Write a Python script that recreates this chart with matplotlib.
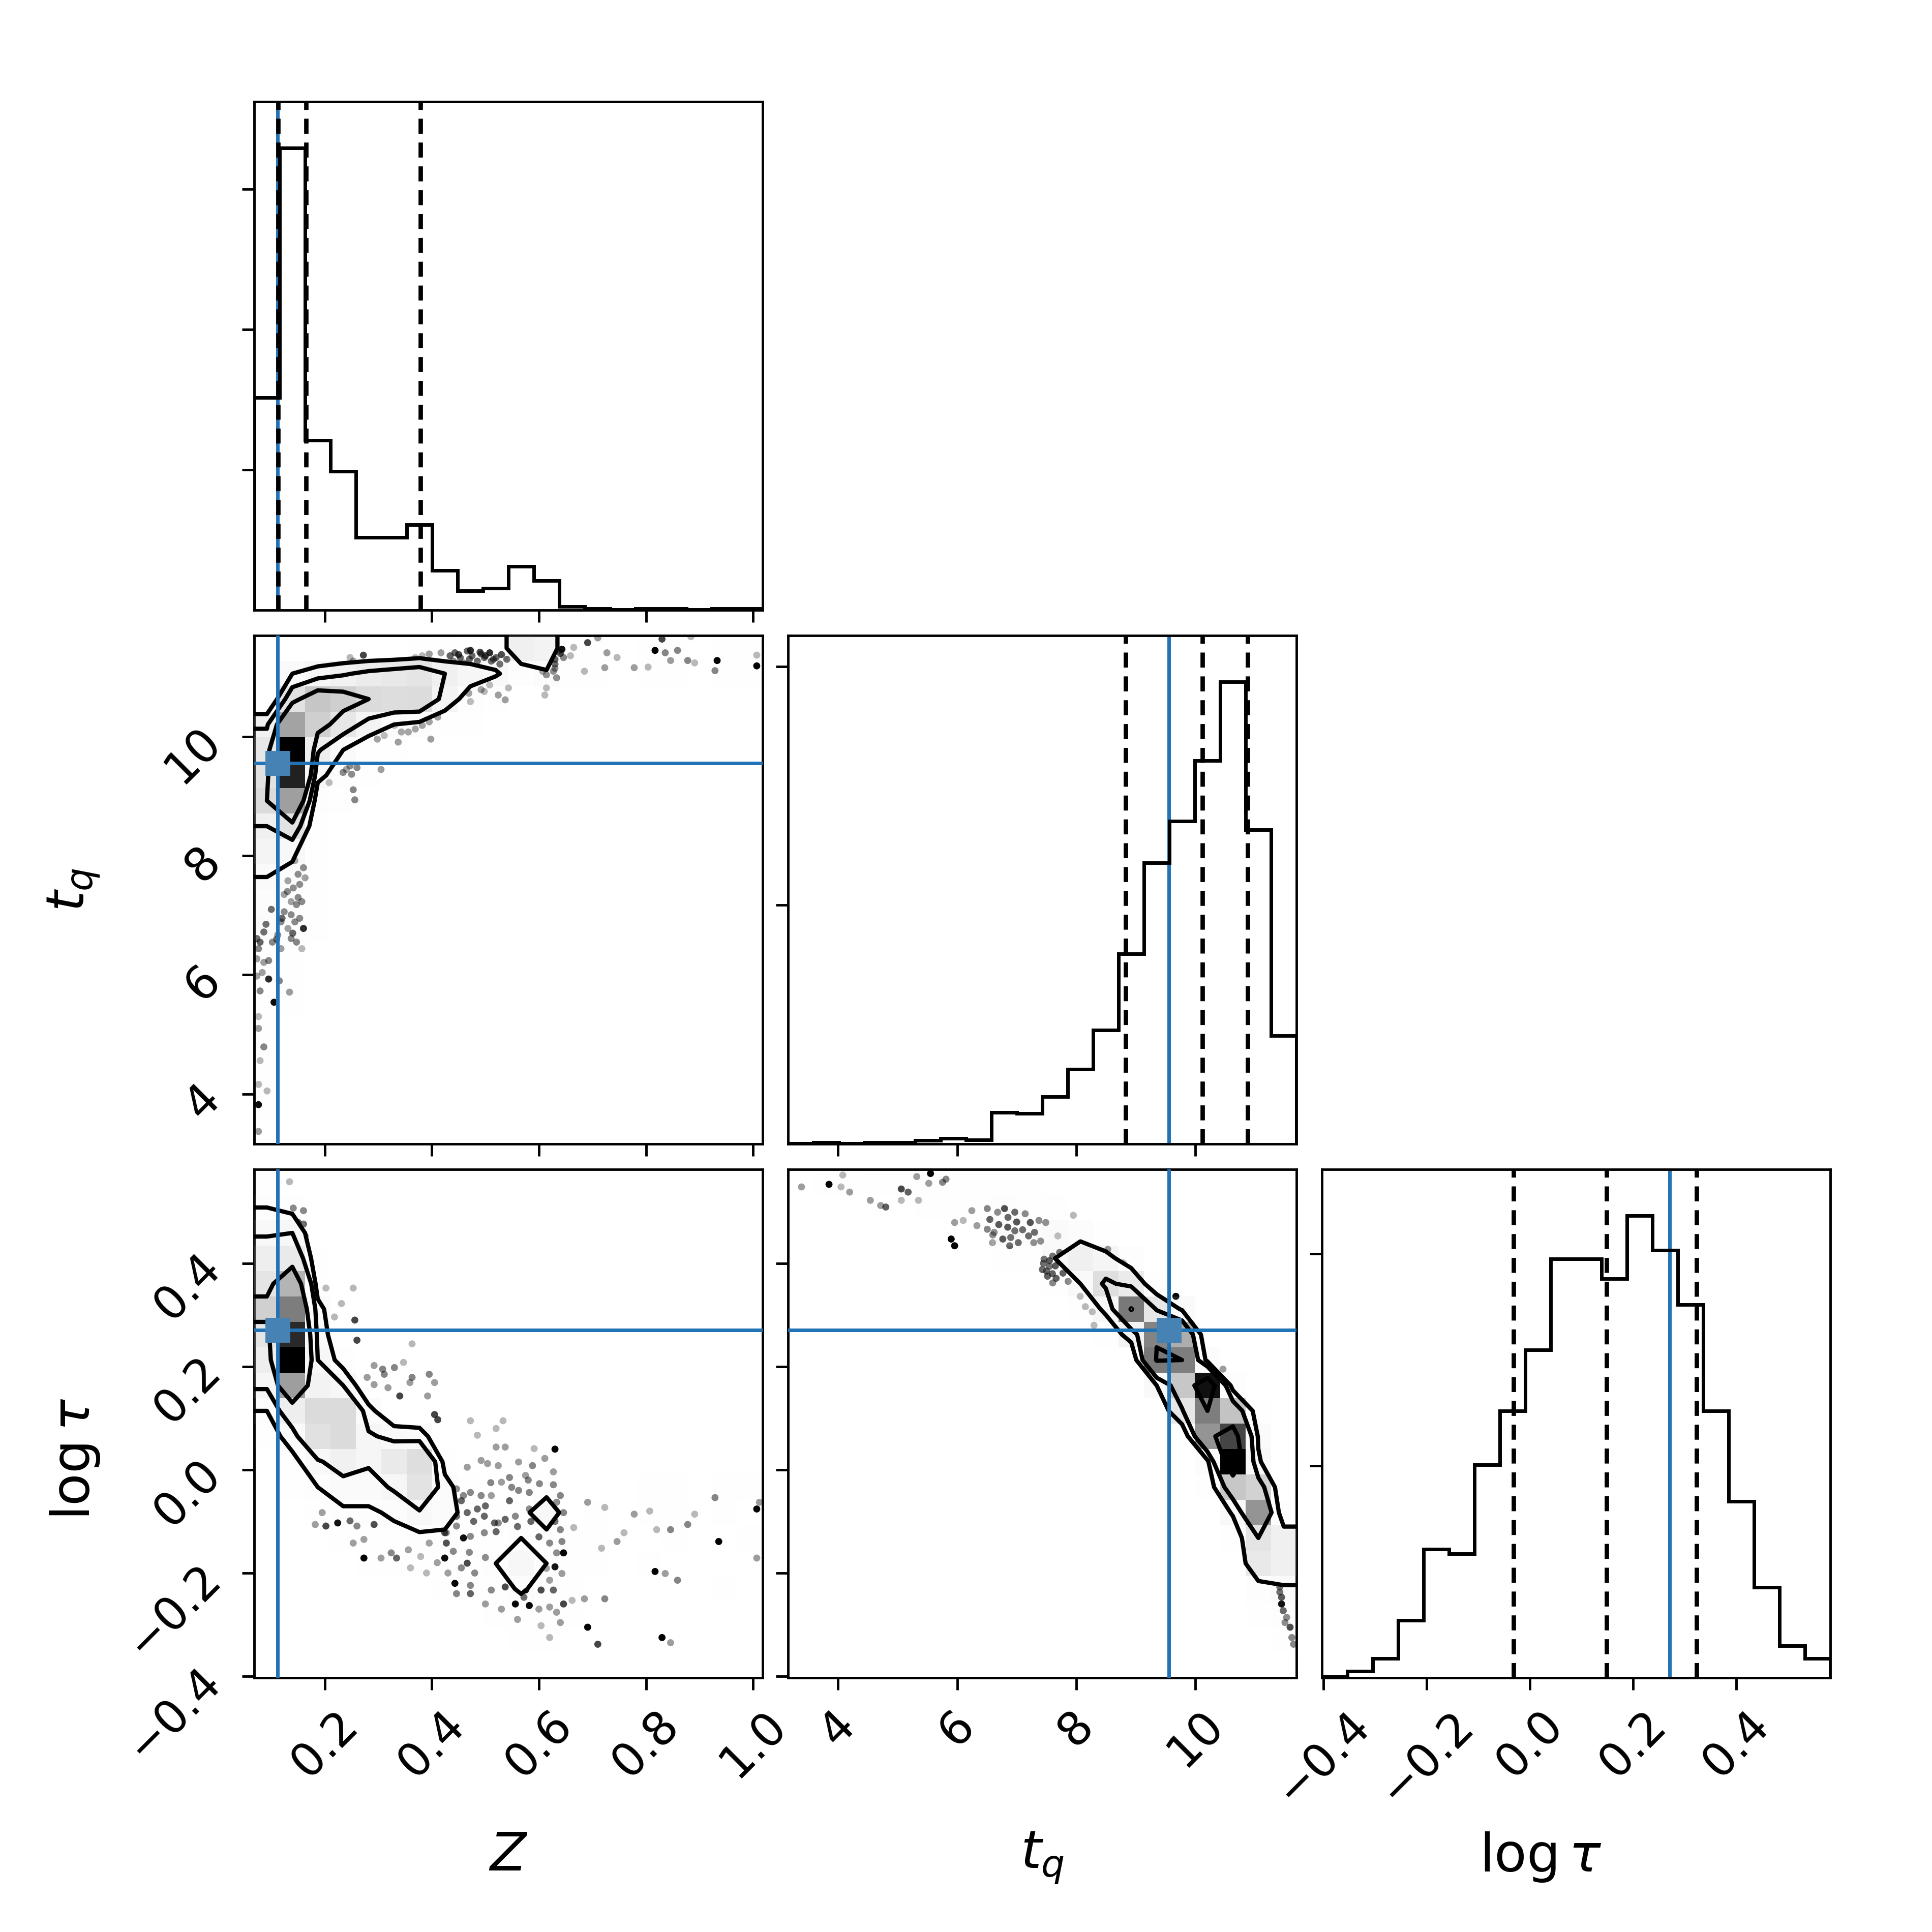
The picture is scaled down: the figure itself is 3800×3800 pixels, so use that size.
import numpy as np
import matplotlib
matplotlib.use("Agg")
import matplotlib.pyplot as plt
from matplotlib.colors import LinearSegmentedColormap

# ---------------- data ----------------
labels = [r"$Z$", r"$t_q$", r"$\mathrm{log}\,\tau$"]
ranges = [(0.068, 1.018), (3.16, 11.70), (-0.403, 0.582)]
truths = [0.112, 9.56, 0.271]
quantiles = [[0.113, 0.1646, 0.3785], [8.83, 10.116, 10.88], [-0.032, 0.149, 0.323]]
axis_ticks = [[0.2, 0.4, 0.6, 0.8, 1.0], [4, 6, 8, 10], [-0.4, -0.2, 0.0, 0.2, 0.4]]
hist_yticks = [[1000, 2000, 3000], [1000, 2000], [500, 1000]]

hist_Z = [1516, 3294, 1210, 988, 518, 518, 607, 282, 137, 157, 313, 210, 24, 10, 2, 10, 10, 2, 10, 10]
hist_tq = [2, 7, 3, 7, 7, 14, 24, 17, 133, 127, 198, 314, 477, 796, 1178, 1353, 1606, 1936, 1317, 453]
hist_logtau = [2, 15, 45, 136, 303, 293, 502, 629, 773, 988, 988, 941, 1090, 1008, 880, 629, 416, 213, 75, 45]

# 2D histogram counts, 20x20, top row (largest y) first, columns left->right
grid_Z_tq = [
    [0, 0, 0, 0, 0, 0, 10, 15, 35, 40, 180, 160, 20, 6, 1, 5, 5, 1, 5, 5],
    [0, 100, 140, 170, 200, 220, 240, 180, 140, 110, 50, 90, 4, 4, 1, 5, 5, 1, 5, 5],
    [0, 250, 353, 325, 280, 270, 277, 150, 60, 15, 0, 0, 0, 0, 0, 0, 0, 0, 0, 0],
    [170, 450, 325, 230, 150, 100, 80, 40, 12, 0, 0, 0, 0, 0, 0, 0, 0, 0, 0, 0],
    [230, 750, 190, 100, 40, 25, 0, 0, 0, 0, 0, 0, 0, 0, 0, 0, 0, 0, 0, 0],
    [257, 700, 120, 60, 20, 0, 0, 0, 0, 0, 0, 0, 0, 0, 0, 0, 0, 0, 0, 0],
    [280, 458, 50, 8, 0, 0, 0, 0, 0, 0, 0, 0, 0, 0, 0, 0, 0, 0, 0, 0],
    [180, 250, 25, 0, 0, 0, 0, 0, 0, 0, 0, 0, 0, 0, 0, 0, 0, 0, 0, 0],
    [150, 120, 14, 0, 0, 0, 0, 0, 0, 0, 0, 0, 0, 0, 0, 0, 0, 0, 0, 0],
    [100, 70, 8, 0, 0, 0, 0, 0, 0, 0, 0, 0, 0, 0, 0, 0, 0, 0, 0, 0],
    [80, 40, 7, 0, 0, 0, 0, 0, 0, 0, 0, 0, 0, 0, 0, 0, 0, 0, 0, 0],
    [90, 40, 3, 0, 0, 0, 0, 0, 0, 0, 0, 0, 0, 0, 0, 0, 0, 0, 0, 0],
    [12, 5, 0, 0, 0, 0, 0, 0, 0, 0, 0, 0, 0, 0, 0, 0, 0, 0, 0, 0],
    [18, 6, 0, 0, 0, 0, 0, 0, 0, 0, 0, 0, 0, 0, 0, 0, 0, 0, 0, 0],
    [10, 4, 0, 0, 0, 0, 0, 0, 0, 0, 0, 0, 0, 0, 0, 0, 0, 0, 0, 0],
    [6, 1, 0, 0, 0, 0, 0, 0, 0, 0, 0, 0, 0, 0, 0, 0, 0, 0, 0, 0],
    [6, 1, 0, 0, 0, 0, 0, 0, 0, 0, 0, 0, 0, 0, 0, 0, 0, 0, 0, 0],
    [3, 0, 0, 0, 0, 0, 0, 0, 0, 0, 0, 0, 0, 0, 0, 0, 0, 0, 0, 0],
    [6, 1, 0, 0, 0, 0, 0, 0, 0, 0, 0, 0, 0, 0, 0, 0, 0, 0, 0, 0],
    [2, 0, 0, 0, 0, 0, 0, 0, 0, 0, 0, 0, 0, 0, 0, 0, 0, 0, 0, 0],
]

grid_Z_logtau = [
    [30, 0, 0, 0, 0, 0, 0, 0, 0, 0, 0, 0, 0, 0, 0, 0, 0, 0, 0, 0],
    [60, 40, 0, 0, 0, 0, 0, 0, 0, 0, 0, 0, 0, 0, 0, 0, 0, 0, 0, 0],
    [110, 120, 0, 0, 0, 0, 0, 0, 0, 0, 0, 0, 0, 0, 0, 0, 0, 0, 0, 0],
    [180, 200, 10, 0, 0, 0, 0, 0, 0, 0, 0, 0, 0, 0, 0, 0, 0, 0, 0, 0],
    [220, 380, 30, 0, 0, 0, 0, 0, 0, 0, 0, 0, 0, 0, 0, 0, 0, 0, 0, 0],
    [300, 500, 80, 0, 0, 0, 0, 0, 0, 0, 0, 0, 0, 0, 0, 0, 0, 0, 0, 0],
    [220, 640, 100, 0, 0, 0, 0, 0, 0, 0, 0, 0, 0, 0, 0, 0, 0, 0, 0, 0],
    [180, 700, 120, 30, 0, 0, 0, 0, 0, 0, 0, 0, 0, 0, 0, 0, 0, 0, 0, 0],
    [130, 430, 150, 120, 0, 0, 0, 0, 0, 0, 0, 0, 0, 0, 0, 0, 0, 0, 0, 0],
    [60, 180, 260, 260, 80, 0, 0, 0, 0, 0, 0, 0, 0, 0, 0, 0, 0, 0, 0, 0],
    [26, 90, 240, 260, 130, 100, 90, 0, 0, 0, 0, 0, 0, 0, 0, 0, 0, 0, 0, 0],
    [0, 40, 110, 160, 130, 200, 250, 40, 0, 0, 0, 0, 0, 0, 0, 0, 0, 0, 0, 0],
    [0, 15, 60, 90, 90, 130, 230, 80, 20, 0, 0, 20, 0, 0, 0, 3, 4, 0, 4, 5],
    [0, 0, 30, 50, 50, 70, 110, 80, 40, 30, 30, 120, 0, 3, 2, 4, 3, 2, 3, 0],
    [0, 0, 0, 20, 28, 40, 45, 50, 35, 30, 60, 30, 8, 4, 0, 0, 3, 0, 0, 5],
    [0, 0, 0, 0, 10, 18, 12, 25, 30, 60, 120, 60, 8, 3, 0, 3, 0, 0, 0, 0],
    [0, 0, 0, 0, 0, 0, 0, 7, 12, 30, 70, 30, 5, 0, 0, 0, 0, 0, 3, 0],
    [0, 0, 0, 0, 0, 0, 0, 0, 0, 7, 20, 15, 3, 0, 0, 0, 0, 0, 0, 0],
    [0, 0, 0, 0, 0, 0, 0, 0, 0, 0, 8, 5, 0, 0, 0, 0, 0, 0, 0, 0],
    [0, 0, 0, 0, 0, 0, 0, 0, 0, 0, 0, 0, 0, 0, 0, 0, 0, 0, 0, 0],
]

grid_tq_logtau = [
    [2, 7, 3, 7, 7, 10, 8, 5, 5, 5, 0, 0, 0, 0, 0, 0, 0, 0, 0, 0],
    [0, 0, 0, 0, 0, 4, 16, 12, 40, 30, 20, 0, 0, 0, 0, 0, 0, 0, 0, 0],
    [0, 0, 0, 0, 0, 0, 0, 0, 80, 60, 80, 60, 10, 0, 0, 0, 0, 0, 0, 0],
    [0, 0, 0, 0, 0, 0, 0, 0, 3, 30, 90, 150, 120, 40, 0, 0, 0, 0, 0, 0],
    [0, 0, 0, 0, 0, 0, 0, 0, 0, 0, 8, 90, 220, 170, 20, 0, 0, 0, 0, 0],
    [0, 0, 0, 0, 0, 0, 0, 0, 0, 0, 0, 14, 110, 450, 190, 80, 0, 0, 0, 0],
    [0, 0, 0, 0, 0, 0, 0, 0, 0, 0, 0, 0, 20, 130, 430, 350, 0, 0, 0, 0],
    [0, 0, 0, 0, 0, 0, 0, 0, 0, 0, 0, 0, 0, 0, 450, 440, 60, 0, 0, 0],
    [0, 0, 0, 0, 0, 0, 0, 0, 0, 0, 0, 0, 0, 0, 90, 290, 600, 40, 0, 0],
    [0, 0, 0, 0, 0, 0, 0, 0, 0, 0, 0, 0, 0, 0, 0, 190, 440, 300, 30, 0],
    [0, 0, 0, 0, 0, 0, 0, 0, 0, 0, 0, 0, 0, 0, 0, 0, 400, 530, 80, 0],
    [0, 0, 0, 0, 0, 0, 0, 0, 0, 0, 0, 0, 0, 0, 0, 0, 70, 620, 100, 0],
    [0, 0, 0, 0, 0, 0, 0, 0, 0, 0, 0, 0, 0, 0, 0, 0, 20, 290, 260, 0],
    [0, 0, 0, 0, 0, 0, 0, 0, 0, 0, 0, 0, 0, 0, 0, 0, 0, 100, 400, 16],
    [0, 0, 0, 0, 0, 0, 0, 0, 0, 0, 0, 0, 0, 0, 0, 0, 0, 30, 200, 150],
    [0, 0, 0, 0, 0, 0, 0, 0, 0, 0, 0, 0, 0, 0, 0, 0, 0, 0, 180, 150],
    [0, 0, 0, 0, 0, 0, 0, 0, 0, 0, 0, 0, 0, 0, 0, 0, 0, 0, 50, 80],
    [0, 0, 0, 0, 0, 0, 0, 0, 0, 0, 0, 0, 0, 0, 0, 0, 0, 0, 5, 40],
    [0, 0, 0, 0, 0, 0, 0, 0, 0, 0, 0, 0, 0, 0, 0, 0, 0, 0, 0, 15],
    [0, 0, 0, 0, 0, 0, 0, 0, 0, 0, 0, 0, 0, 0, 0, 0, 0, 0, 0, 2],
]

# sample points visible outside the contours: (x, y, repeat count)
points_Z_tq = [
    (0.272, 11.37, 8), (0.691, 11.58, 8), (0.710, 11.66, 3), (0.727, 11.41, 3), (0.746, 11.33, 2),
    (0.778, 11.16, 3), (0.804, 11.17, 2), (0.817, 11.45, 30), (0.836, 11.41, 4), (0.830, 11.64, 8),
    (0.859, 11.45, 4), (0.846, 11.28, 3), (0.878, 11.28, 4), (0.891, 11.24, 2), (0.933, 11.28, 30),
    (0.929, 11.11, 4), (1.007, 11.37, 2), (1.007, 11.19, 30), (0.884, 11.68, 2), (0.665, 11.50, 2),
    (0.685, 11.10, 2), (0.723, 11.16, 3), (0.659, 11.36, 2),
    (0.434, 11.36, 6), (0.443, 11.41, 6), (0.453, 11.33, 6), (0.466, 11.44, 6), (0.472, 11.45, 12),
    (0.475, 11.36, 6), (0.485, 11.27, 6), (0.492, 11.39, 6), (0.498, 11.33, 6), (0.508, 11.41, 12),
    (0.511, 11.27, 6), (0.520, 11.33, 6), (0.527, 11.22, 6), (0.440, 11.27, 4), (0.459, 11.24, 4),
    (0.417, 11.41, 3), (0.395, 11.39, 3), (0.382, 11.36, 2), (0.369, 11.33, 2), (0.253, 11.27, 3),
    (0.263, 11.19, 3), (0.247, 11.33, 2), (0.208, 11.13, 2), (0.186, 11.04, 2),
    (0.450, 11.38, 8), (0.470, 11.30, 6), (0.490, 11.42, 8), (0.500, 11.36, 8), (0.515, 11.30, 6),
    (0.530, 11.38, 8), (0.540, 11.30, 6), (0.620, 11.41, 8), (0.630, 11.30, 8), (0.640, 11.40, 8),
    (0.630, 11.15, 4),
    (0.607, 11.47, 6), (0.614, 11.33, 6), (0.624, 11.39, 6), (0.630, 11.22, 6), (0.636, 11.44, 6),
    (0.643, 11.47, 20), (0.627, 11.10, 4), (0.633, 10.99, 4), (0.646, 11.33, 4), (0.614, 11.04, 4),
    (0.601, 11.56, 4), (0.607, 11.10, 3), (0.614, 10.82, 2), (0.611, 10.70, 2),
    (0.469, 10.73, 3), (0.492, 10.79, 3), (0.524, 10.70, 3), (0.537, 10.62, 3), (0.508, 10.87, 2),
    (0.472, 10.59, 2), (0.498, 10.76, 2), (0.543, 10.82, 2), (0.408, 10.42, 3), (0.395, 10.25, 3),
    (0.356, 10.08, 3), (0.337, 9.91, 3), (0.311, 10.02, 2), (0.298, 9.96, 3), (0.398, 9.96, 3),
    (0.305, 9.45, 3), (0.253, 9.11, 4), (0.256, 8.94, 4), (0.240, 9.45, 3), (0.208, 9.23, 2),
    (0.260, 9.48, 4), (0.343, 10.08, 3), (0.369, 10.13, 3), (0.382, 10.19, 3), (0.330, 10.19, 2),
    (0.350, 10.25, 3), (0.411, 10.33, 3), (0.247, 9.51, 4), (0.234, 9.40, 4), (0.250, 9.37, 4),
    (0.160, 7.80, 4), (0.153, 7.52, 4), (0.157, 7.23, 4), (0.160, 6.78, 12), (0.147, 6.55, 4),
    (0.157, 6.44, 2), (0.137, 7.01, 4), (0.124, 7.35, 3), (0.095, 6.24, 4), (0.095, 5.93, 12),
    (0.115, 5.90, 4), (0.134, 5.71, 3), (0.079, 5.73, 4), (0.105, 5.54, 20), (0.076, 5.30, 2),
    (0.076, 5.10, 3), (0.086, 4.79, 4), (0.079, 4.56, 2), (0.076, 4.16, 2), (0.092, 4.05, 2),
    (0.076, 3.82, 20), (0.076, 3.37, 3), (0.073, 5.98, 3), (0.073, 6.61, 6), (0.144, 7.92, 3),
    (0.150, 7.69, 4), (0.141, 7.46, 4), (0.131, 7.58, 3), (0.163, 7.63, 3), (0.147, 7.18, 4),
    (0.137, 7.23, 3), (0.124, 7.06, 4), (0.118, 6.89, 4), (0.144, 6.89, 4), (0.153, 6.95, 4),
    (0.131, 6.78, 3), (0.112, 6.67, 4), (0.086, 6.72, 6), (0.079, 6.55, 6), (0.076, 6.44, 4),
    (0.073, 6.27, 3), (0.102, 6.55, 4), (0.118, 6.44, 3), (0.137, 6.61, 4), (0.086, 6.21, 3),
    (0.083, 6.04, 3), (0.100, 7.10, 6), (0.120, 6.95, 6), (0.140, 6.70, 6), (0.110, 6.60, 6),
    (0.090, 6.85, 6), (0.130, 7.40, 4), (0.150, 7.30, 4),
]

points_Z_logtau = [
    (0.134, 0.558, 2), (0.141, 0.507, 4), (0.160, 0.502, 4), (0.150, 0.479, 8), (0.160, 0.476, 6),
    (0.163, 0.453, 4), (0.153, 0.447, 4), (0.202, 0.352, 2), (0.253, 0.352, 2), (0.231, 0.322, 2),
    (0.218, 0.296, 2), (0.256, 0.290, 8), (0.260, 0.251, 8), (0.363, 0.244, 2), (0.292, 0.202, 3),
    (0.308, 0.195, 4), (0.311, 0.185, 4), (0.330, 0.198, 4), (0.347, 0.208, 2), (0.363, 0.179, 4),
    (0.359, 0.169, 3), (0.395, 0.185, 4), (0.405, 0.169, 3), (0.292, 0.165, 3), (0.318, 0.159, 3),
    (0.340, 0.143, 8), (0.392, 0.143, 3), (0.279, 0.179, 3), (0.405, 0.107, 8), (0.411, 0.097, 8),
    (0.472, 0.095, 2), (0.533, 0.095, 2), (0.520, 0.080, 2), (0.485, 0.067, 2), (0.520, 0.044, 3),
    (0.537, 0.044, 3), (0.591, 0.041, 2), (0.630, 0.040, 30), (0.466, 0.005, 3), (0.492, 0.018, 3),
    (0.504, 0.012, 3), (0.524, 0.008, 3), (0.562, 0.015, 3), (0.588, 0.008, 4), (0.611, 0.022, 3),
    (0.627, -0.004, 3), (0.575, -0.011, 3), (0.601, -0.027, 4),
    (0.446, -0.037, 4), (0.459, -0.050, 4), (0.440, -0.063, 4), (0.472, -0.044, 4), (0.492, -0.050, 4),
    (0.511, -0.050, 3), (0.530, -0.024, 3), (0.549, -0.034, 4), (0.562, -0.040, 4), (0.582, -0.044, 4),
    (0.627, -0.029, 4), (0.446, -0.090, 6), (0.466, -0.083, 6), (0.485, -0.076, 6), (0.498, -0.090, 6),
    (0.517, -0.103, 6), (0.537, -0.096, 6), (0.556, -0.090, 4), (0.582, -0.076, 4), (0.607, -0.070, 4),
    (0.633, -0.063, 4), (0.646, -0.083, 4), (0.427, -0.122, 4), (0.446, -0.109, 4), (0.472, -0.129, 4),
    (0.498, -0.122, 4), (0.524, -0.103, 4), (0.640, -0.116, 4), (0.643, -0.139, 4), (0.620, -0.142, 4),
    (0.633, -0.161, 4), (0.646, -0.161, 30), (0.630, -0.188, 30), (0.614, -0.191, 3), (0.620, -0.214, 3),
    (0.643, -0.201, 3),
    (0.455, -0.060, 6), (0.478, -0.100, 6), (0.500, -0.070, 6), (0.520, -0.120, 6), (0.545, -0.060, 6),
    (0.560, -0.110, 6), (0.585, -0.100, 6), (0.600, -0.130, 6), (0.615, -0.100, 6), (0.580, -0.020, 4),
    (0.545, -0.015, 4), (0.510, -0.025, 4), (0.630, -0.100, 6), (0.640, -0.050, 4), (0.470, -0.160, 4),
    (0.500, -0.170, 4), (0.480, -0.200, 4), (0.455, -0.190, 4), (0.430, -0.200, 3), (0.410, -0.180, 3),
    (0.390, -0.200, 2), (0.360, -0.190, 2), (0.500, -0.260, 3), (0.530, -0.270, 3), (0.560, -0.290, 3),
    (0.600, -0.270, 3),
    (0.182, -0.106, 3), (0.195, -0.083, 3), (0.202, -0.109, 8), (0.224, -0.103, 30), (0.247, -0.099, 6),
    (0.260, -0.109, 4), (0.292, -0.106, 8), (0.253, -0.142, 3), (0.273, -0.135, 3), (0.273, -0.171, 30),
    (0.305, -0.171, 3), (0.324, -0.161, 4), (0.334, -0.171, 6), (0.356, -0.155, 3), (0.379, -0.168, 2),
    (0.395, -0.142, 3), (0.424, -0.122, 8), (0.427, -0.142, 8), (0.424, -0.171, 30), (0.440, -0.158, 4),
    (0.459, -0.132, 30), (0.466, -0.181, 8), (0.443, -0.220, 30), (0.472, -0.224, 4), (0.472, -0.240, 6),
    (0.446, -0.240, 4), (0.511, -0.233, 4), (0.537, -0.227, 8), (0.556, -0.260, 30), (0.582, -0.263, 30),
    (0.572, -0.247, 6), (0.575, -0.233, 30), (0.604, -0.233, 8), (0.627, -0.233, 6), (0.646, -0.260, 8),
    (0.620, -0.266, 3), (0.633, -0.276, 3), (0.640, -0.296, 3), (0.604, -0.302, 2), (0.620, -0.325, 2),
    (0.662, -0.253, 2), (0.685, -0.250, 3), (0.723, -0.250, 4), (0.691, -0.305, 30), (0.710, -0.338, 8),
    (0.830, -0.325, 30), (0.846, -0.335, 3),
    (0.691, -0.063, 3), (0.723, -0.073, 2), (0.778, -0.086, 3), (0.807, -0.080, 2), (0.846, -0.116, 4),
    (0.878, -0.106, 4), (0.891, -0.086, 2), (0.929, -0.054, 4), (1.007, -0.076, 30), (1.012, -0.063, 3),
    (0.936, -0.139, 30), (1.007, -0.171, 3), (0.817, -0.197, 30), (0.836, -0.201, 3), (0.859, -0.214, 4),
    (0.746, -0.139, 3), (0.759, -0.122, 2), (0.717, -0.152, 2), (0.820, -0.116, 2), (0.665, -0.112, 2),
]

points_tq_logtau = [
    (3.386, 0.548, 3), (3.848, 0.553, 30), (4.079, 0.571, 2), (4.195, 0.538, 3), (4.050, 0.548, 2),
    (4.542, 0.522, 3), (4.715, 0.512, 3), (4.802, 0.509, 6), (5.062, 0.544, 8), (5.177, 0.538, 6),
    (5.322, 0.568, 3), (5.524, 0.555, 3), (5.553, 0.574, 30), (5.755, 0.557, 4), (5.813, 0.563, 4),
    (5.351, 0.522, 2), (5.062, 0.522, 2),
    (5.958, 0.479, 3), (6.247, 0.502, 3), (6.102, 0.483, 2), (6.333, 0.473, 3), (6.507, 0.506, 4),
    (6.680, 0.499, 4), (6.796, 0.506, 8), (6.854, 0.489, 6), (6.969, 0.499, 6), (7.143, 0.496, 4),
    (7.229, 0.479, 8), (7.374, 0.483, 4), (7.489, 0.479, 4), (6.507, 0.466, 4), (6.622, 0.460, 4),
    (6.767, 0.447, 8), (6.969, 0.463, 6), (7.027, 0.440, 6), (7.200, 0.453, 6), (7.287, 0.440, 4),
    (7.403, 0.443, 4), (6.594, 0.440, 3), (6.883, 0.434, 6), (5.900, 0.447, 30), (5.958, 0.434, 30),
    (7.952, 0.493, 2), (7.692, 0.453, 2),
    (6.550, 0.485, 6), (6.700, 0.475, 8), (6.850, 0.470, 8), (7.000, 0.480, 8), (7.100, 0.465, 6),
    (7.300, 0.460, 6), (6.900, 0.450, 6), (6.600, 0.455, 4), (7.550, 0.405, 8), (7.650, 0.395, 8),
    (7.500, 0.385, 6), (7.700, 0.405, 6), (7.600, 0.380, 6), (7.450, 0.400, 6),
    (7.461, 0.408, 6), (7.547, 0.394, 6), (7.605, 0.414, 6), (7.721, 0.421, 6), (7.432, 0.388, 6),
    (7.518, 0.375, 6), (7.663, 0.371, 6), (7.778, 0.381, 6), (7.865, 0.365, 4), (7.605, 0.362, 4),
    (7.778, 0.408, 6), (7.836, 0.394, 6), (8.414, 0.421, 4), (8.501, 0.408, 4), (8.530, 0.427, 4),
    (8.588, 0.401, 3),
    (8.067, 0.336, 2), (8.154, 0.316, 2), (8.270, 0.306, 2), (8.299, 0.280, 2), (8.790, 0.401, 2),
    (9.674, 0.336, 30), (10.466, 0.195, 3),
    (11.333, -0.201, 6), (11.391, -0.214, 6), (11.420, -0.227, 6), (11.449, -0.247, 8), (11.449, -0.260, 30),
    (11.478, -0.273, 6), (11.535, -0.286, 4), (11.593, -0.305, 8), (11.622, -0.325, 4), (11.651, -0.338, 4),
    (11.362, -0.191, 4), (11.420, -0.237, 6), (11.507, -0.296, 4),
]

hists = [hist_Z, hist_tq, hist_logtau]
grids = {(1, 0): grid_Z_tq, (2, 0): grid_Z_logtau, (2, 1): grid_tq_logtau}
points = {(1, 0): points_Z_tq, (2, 0): points_Z_logtau, (2, 1): points_tq_logtau}

# ---------------- style ----------------
TRUTH_LINE = "#2272b6"
TRUTH_MARK = "#4682b4"
TICK_FS = 13
LABEL_FS = 15
SPINE_LW = 0.7
xlabel_coords = [(0.5, -0.3), (0.5, -0.3), (0.43, -0.3)]
ylabel_coords = [None, (-0.3, 0.5), (-0.3, 0.43)]

white_cmap = LinearSegmentedColormap.from_list("white_cmap", [(1, 1, 1), (1, 1, 1)], N=2)
density_cmap = LinearSegmentedColormap.from_list("density_cmap", [(0, 0, 0, 1), (1, 1, 1, 0)])
levels = 1.0 - np.exp(-0.5 * np.arange(0.5, 2.1, 0.5) ** 2)


def draw_hist2d(ax, grid, xr, yr, pts):
    H = np.array(grid, dtype=float)[::-1].T  # H[ix, iy]
    nx, ny = H.shape
    X = np.linspace(xr[0], xr[1], nx + 1)
    Y = np.linspace(yr[0], yr[1], ny + 1)

    Hflat = np.sort(H.flatten())[::-1]
    sm = np.cumsum(Hflat)
    sm /= sm[-1]
    V = np.empty(len(levels))
    for k, v0 in enumerate(levels):
        try:
            V[k] = Hflat[sm <= v0][-1]
        except IndexError:
            V[k] = Hflat[0]
    V.sort()
    m = np.diff(V) == 0
    while np.any(m):
        V[np.where(m)[0][0]] *= 1.0 - 1e-4
        m = np.diff(V) == 0
    V.sort()

    X1, Y1 = 0.5 * (X[1:] + X[:-1]), 0.5 * (Y[1:] + Y[:-1])
    H2 = H.min() + np.zeros((nx + 4, ny + 4))
    H2[2:-2, 2:-2] = H
    H2[2:-2, 1] = H[:, 0]
    H2[2:-2, -2] = H[:, -1]
    H2[1, 2:-2] = H[0]
    H2[-2, 2:-2] = H[-1]
    H2[1, 1] = H[0, 0]
    H2[1, -2] = H[0, -1]
    H2[-2, 1] = H[-1, 0]
    H2[-2, -2] = H[-1, -1]
    X2 = np.concatenate([X1[0] + np.array([-2, -1]) * np.diff(X1[:2]), X1,
                         X1[-1] + np.array([1, 2]) * np.diff(X1[-2:])])
    Y2 = np.concatenate([Y1[0] + np.array([-2, -1]) * np.diff(Y1[:2]), Y1,
                         Y1[-1] + np.array([1, 2]) * np.diff(Y1[-2:])])

    px = np.array([p[0] for p in pts])
    py = np.array([p[1] for p in pts])
    pn = np.array([p[2] for p in pts], dtype=float)
    cols = np.zeros((len(px), 4))
    cols[:, 3] = 1.0 - 0.85 ** pn
    ax.scatter(px, py, s=4.0, c=cols, marker="o", linewidths=0, zorder=1)

    ax.contourf(X2, Y2, H2.T, [V.min(), H.max()], cmap=white_cmap, antialiased=False, zorder=2)
    ax.pcolor(X, Y, H.max() - H.T, cmap=density_cmap, zorder=3)
    ax.contour(X2, Y2, H2.T, V, colors="k", linewidths=1.2, zorder=4)


fig = plt.figure(figsize=(7.6, 7.6), dpi=500)
gs = fig.add_gridspec(3, 3, left=1.0 / 7.6, right=7.2 / 7.6, bottom=1.0 / 7.6, top=7.2 / 7.6,
                      wspace=0.05, hspace=0.05)

for i in range(3):
    for j in range(i + 1):
        ax = fig.add_subplot(gs[i, j])
        for sp in ax.spines.values():
            sp.set_linewidth(SPINE_LW)
        ax.tick_params(width=SPINE_LW, length=3.5, labelsize=TICK_FS)
        if i == j:
            counts = np.array(hists[i], dtype=float)
            edges = np.linspace(ranges[i][0], ranges[i][1], len(counts) + 1)
            ax.axvline(truths[i], color=TRUTH_LINE, lw=1.0, zorder=2)
            ax.stairs(counts, edges, color="k", lw=1.0, zorder=3)
            for q in quantiles[i]:
                ax.axvline(q, color="k", lw=1.25, ls=(0, (3.4, 2.0)), zorder=4)
            ax.set_xlim(ranges[i])
            ax.set_ylim(0, 1.1 * counts.max())
            ax.set_yticks(hist_yticks[i])
            ax.set_yticklabels([])
            ax.set_xticks(axis_ticks[i])
        else:
            draw_hist2d(ax, grids[(i, j)], ranges[j], ranges[i], points[(i, j)])
            ax.axvline(truths[j], color=TRUTH_LINE, lw=1.0, zorder=5)
            ax.axhline(truths[i], color=TRUTH_LINE, lw=1.0, zorder=5)
            ax.plot(truths[j], truths[i], "s", color=TRUTH_MARK, ms=6, zorder=6)
            ax.set_xlim(ranges[j])
            ax.set_ylim(ranges[i])
            ax.set_xticks(axis_ticks[j])
            ax.set_yticks(axis_ticks[i])
            if j == 0:
                ax.tick_params(axis="y", labelrotation=45)
                ax.set_ylabel(labels[i], fontsize=LABEL_FS)
                ax.yaxis.set_label_coords(*ylabel_coords[i])
            else:
                ax.set_yticklabels([])
        if i == 2:
            ax.tick_params(axis="x", labelrotation=45)
            ax.set_xlabel(labels[j], fontsize=LABEL_FS)
            ax.xaxis.set_label_coords(*xlabel_coords[j])
        else:
            ax.set_xticklabels([])

fig.savefig("out.png", dpi=500)
